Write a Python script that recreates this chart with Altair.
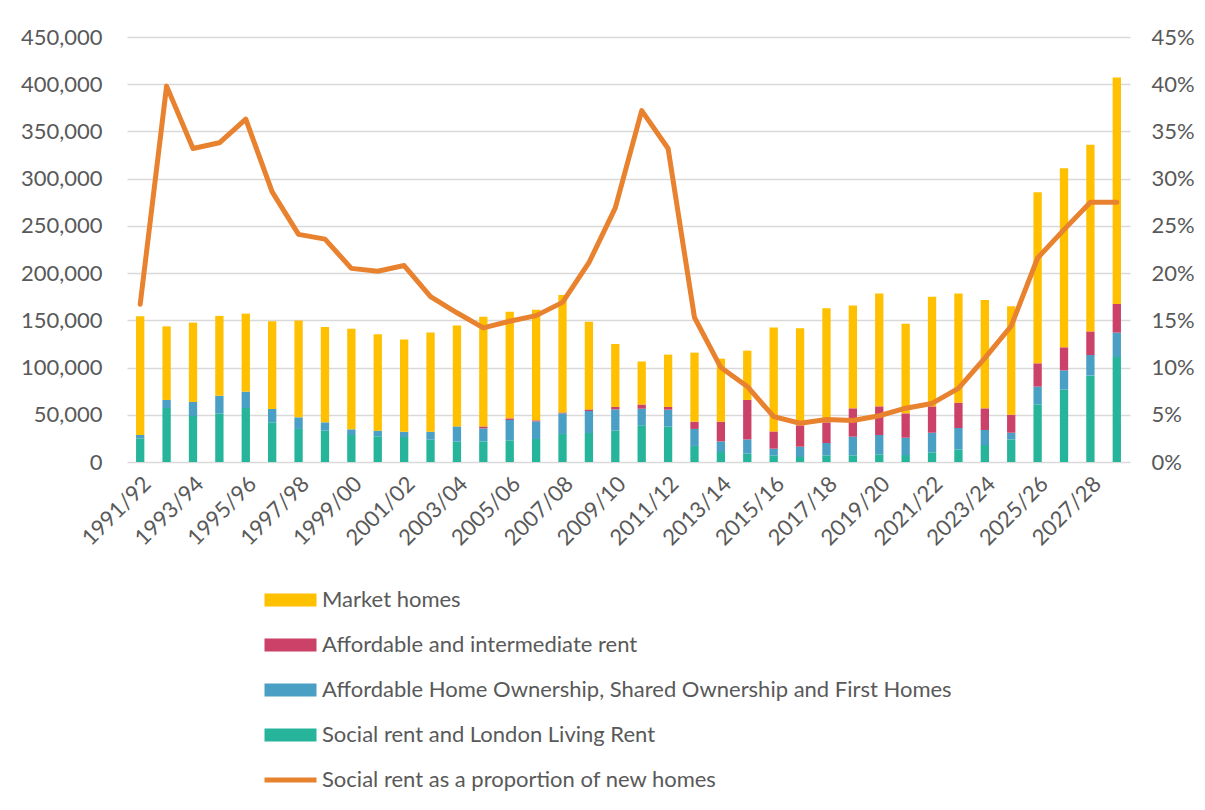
import altair as alt
import pandas as pd

years = ["1991/92", "1992/93", "1993/94", "1994/95", "1995/96", "1996/97", "1997/98",
         "1998/99", "1999/00", "2000/01", "2001/02", "2002/03", "2003/04", "2004/05",
         "2005/06", "2006/07", "2007/08", "2008/09", "2009/10", "2010/11", "2011/12",
         "2012/13", "2013/14", "2014/15", "2015/16", "2016/17", "2017/18", "2018/19",
         "2019/20", "2020/21", "2021/22", "2022/23", "2023/24", "2024/25", "2025/26",
         "2026/27", "2027/28", "2028/29"]

social_rent = [25000, 57200, 48700, 51500, 57200, 42000, 35000, 33200, 28600, 27200,
               26500, 23600, 21800, 21800, 22900, 24400, 29700, 30700, 33200, 38800,
               37400, 17000, 10600, 8800, 7000, 5300, 7000, 7000, 8100, 7400,
               10200, 13300, 18000, 23900, 61000, 76600, 91700, 111200]

home_ownership = [3600, 8500, 14900, 18700, 17300, 14100, 12300, 8800, 6000, 6000,
                  5600, 8500, 15900, 13800, 21600, 18600, 21800, 23300, 22500, 17700,
                  18000, 18000, 11200, 15100, 7100, 10900, 13100, 19800, 20500, 18300,
                  20800, 22700, 15900, 7100, 18800, 20400, 21600, 25800]

affordable_rent = [0, 0, 0, 0, 0, 0, 0, 0, 0, 0,
                   0, 0, 0, 2100, 1700, 1100, 1000, 1700, 2600, 4500,
                   2900, 7700, 20900, 41800, 18300, 22600, 21900, 30000, 30300, 25800,
                   27900, 26800, 22900, 19100, 24700, 24400, 25000, 30400]

market_homes = [125600, 77900, 84000, 84500, 82600, 92900, 102400, 101000, 106600, 102000,
                97500, 104900, 106700, 116200, 113000, 117200, 124400, 92900, 66700, 45300,
                55400, 73100, 66700, 52200, 109900, 102700, 120700, 108800, 119400, 95000,
                116200, 115500, 114800, 114700, 181100, 189600, 197500, 239700]

social_share = [0.167, 0.398, 0.332, 0.338, 0.363, 0.286, 0.241, 0.236, 0.205, 0.202,
                0.208, 0.175, 0.158, 0.142, 0.149, 0.155, 0.169, 0.211, 0.269, 0.372,
                0.332, 0.153, 0.100, 0.080, 0.048, 0.041, 0.045, 0.044, 0.049, 0.057,
                0.062, 0.078, 0.110, 0.144, 0.216, 0.246, 0.275, 0.275]

MARKET = "Market homes"
AFF = "Affordable and intermediate rent"
AHO = "Affordable Home Ownership, Shared Ownership and First Homes"
SOC = "Social rent and London Living Rent"
LINE = "Social rent as a proportion of new homes"

bar_names = [MARKET, AFF, AHO, SOC]
bar_colors = ["#FFC000", "#CB4168", "#4A9FC4", "#26B59B"]
line_color = "#E8822F"

bar_series = [(SOC, social_rent, 0), (AHO, home_ownership, 1),
              (AFF, affordable_rent, 2), (MARKET, market_homes, 3)]
rows = []
for name, vals, order in bar_series:
    for yr, v in zip(years, vals):
        rows.append({"year": yr, "value": v, "series": name, "order": order})
df_bars = pd.DataFrame(rows)

df_line = pd.DataFrame({"year": years, "share": social_share, "series": LINE})

FONT = "Lato"
TXT = "#595959"
GRID = "#D9D9D9"

left_ticks = [0, 50000, 100000, 150000, 200000, 250000, 300000, 350000, 400000, 450000]
right_ticks = [0, 0.05, 0.10, 0.15, 0.20, 0.25, 0.30, 0.35, 0.40, 0.45]

rect_path = "M-1,-1H7V1H-1Z"
line_path = "M-1,0H7"

bar_legend = alt.Legend(
    orient="none", legendX=133, legendY=552, direction="vertical", title=None,
    symbolType=rect_path, symbolSize=169, labelOffset=40, labelFontSize=22,
    labelColor=TXT, labelFont=FONT, rowPadding=23, labelLimit=900, padding=0,
    symbolStrokeWidth=0, symbolOpacity=1,
)
line_legend = alt.Legend(
    orient="none", legendX=133, legendY=732, direction="vertical", title=None,
    symbolType=line_path, symbolSize=169, labelOffset=40, labelFontSize=22,
    labelColor=TXT, labelFont=FONT, labelLimit=900, padding=0,
    symbolStrokeWidth=5, symbolOpacity=1,
)

x_enc = alt.X("year:N", sort=years, title=None,
              scale=alt.Scale(paddingInner=0.685, paddingOuter=0.3425),
              axis=alt.Axis(values=years[::2], labelAngle=-45, labelFont=FONT,
                            labelFontSize=22, labelColor=TXT, ticks=False, domain=False,
                            labelPadding=11, labelOverlap=False))

bars = alt.Chart(df_bars).mark_bar().encode(
    x=x_enc,
    y=alt.Y("value:Q", stack="zero", title=None,
            scale=alt.Scale(domain=[0, 450000], nice=False),
            axis=alt.Axis(values=left_ticks, format=",.0f", labelFont=FONT, labelFontSize=22,
                          labelColor=TXT, ticks=False, domain=False, labelPadding=25,
                          grid=True, gridColor=GRID, gridWidth=1.3)),
    color=alt.Color("series:N", scale=alt.Scale(domain=bar_names, range=bar_colors),
                    legend=bar_legend),
    order=alt.Order("order:Q"),
)

line = alt.Chart(df_line).mark_line(strokeWidth=5, strokeCap="round", strokeJoin="round").encode(
    x=alt.X("year:N", sort=years, title=None),
    y=alt.Y("share:Q", title=None,
            scale=alt.Scale(domain=[0, 0.45], nice=False),
            axis=alt.Axis(orient="right", values=right_ticks, format=".0%", labelFont=FONT,
                          labelFontSize=22, labelColor=TXT, ticks=False, domain=False,
                          labelPadding=21, grid=False)),
    stroke=alt.Stroke("series:N", scale=alt.Scale(domain=[LINE], range=[line_color]),
                      legend=line_legend),
)

chart = alt.layer(bars, line).resolve_scale(y="independent").properties(
    width=1003, height=425,
    padding={"left": 119, "top": 29, "right": 67, "bottom": 335},
    autosize=alt.AutoSizeParams(type="none"),
).configure_view(stroke=None)

chart.save("out.html", embed_options={"renderer": "svg", "actions": False})
